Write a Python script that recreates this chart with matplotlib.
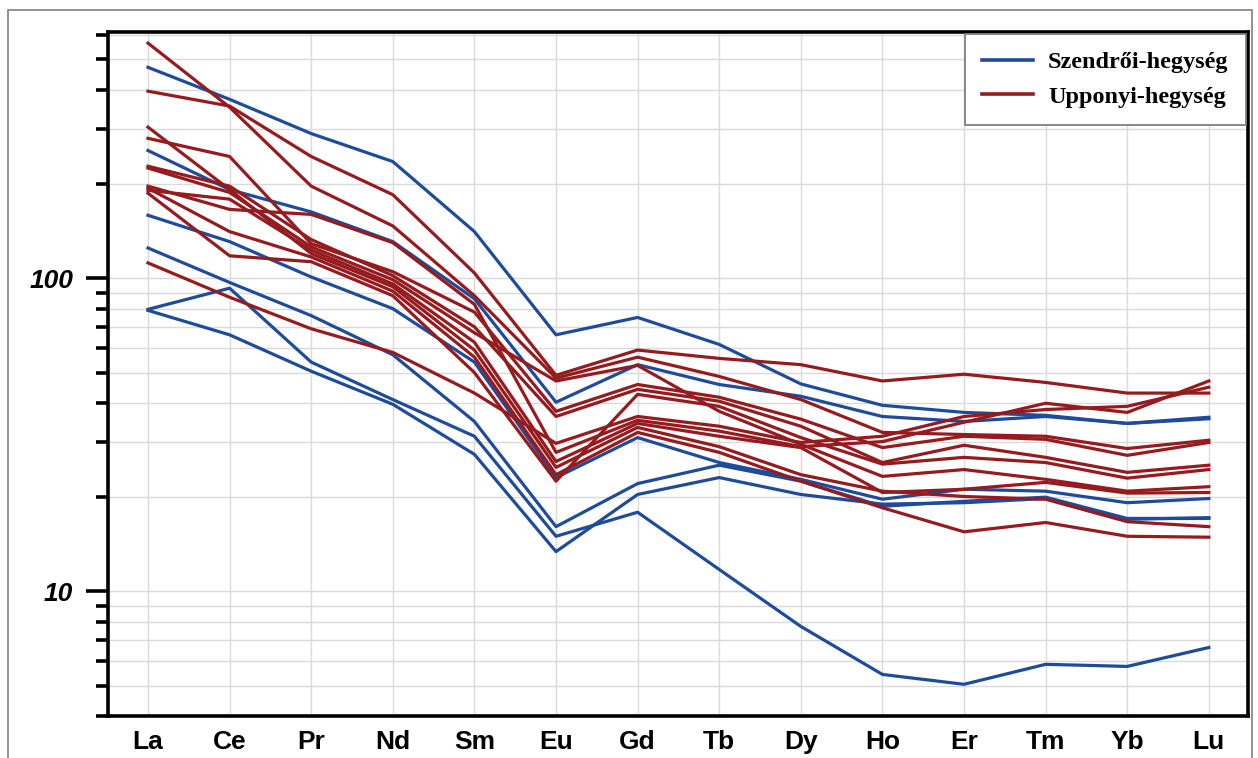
import matplotlib
matplotlib.use("Agg")
import matplotlib.pyplot as plt
from matplotlib.patches import Rectangle
from matplotlib.ticker import LogLocator, NullFormatter, FixedLocator, FixedFormatter

elements = ["La", "Ce", "Pr", "Nd", "Sm", "Eu", "Gd", "Tb", "Dy", "Ho", "Er", "Tm", "Yb", "Lu"]

# Szendrői-hegység samples (chondrite normalised)
sz_1 = [472, 373, 290, 236, 141, 66, 75, 61.5, 46, 39.3, 37.3, 36.5, 34.4, 36]
sz_2 = [256, 192, 163, 131, 86, 40.2, 53, 45.8, 42, 36.2, 34.9, 36.2, 34.4, 35.6]
sz_3 = [159, 131, 101, 80, 54, 23.1, 31, 25.8, 22.8, 19.7, 21.2, 20.9, 19.2, 19.8]
sz_4 = [125, 97, 76, 57, 34.9, 16.1, 22.1, 25.3, 22.5, 18.7, 19.4, 20, 17.1, 17.1]
sz_5 = [79.6, 93, 54, 41, 31.3, 15, 17.9, 11.75, 7.73, 5.43, 5.05, 5.85, 5.76, 6.62]
sz_6 = [79, 66, 50.5, 39.6, 27.4, 13.4, 20.4, 23.1, 20.4, 19, 19.2, 19.8, 17, 17.2]

# Upponyi-hegység samples
up_1 = [564, 352, 197, 147, 88, 48, 56, 48.6, 41, 32.2, 31.7, 31.3, 28.6, 30.4]
up_2 = [396, 355, 245, 185, 104, 49, 59, 55.5, 53, 47, 49.4, 46.5, 43, 43]
up_3 = [304, 192, 120, 94, 59, 24.9, 33.4, 29, 23.6, 20.9, 20.1, 19.7, 16.7, 16.1]
up_4 = [280, 245, 129, 105, 78, 37.6, 45.8, 41.7, 35.5, 28.8, 31.3, 30.6, 27.2, 29.9]
up_5 = [228, 197, 133, 102, 70, 36.2, 44.2, 40.5, 33.7, 25.8, 29.3, 26.8, 24, 25.3]
up_6 = [225, 188, 126, 99, 67, 47, 52.7, 37.6, 29.5, 23.3, 24.5, 22.8, 20.9, 21.6]
up_7 = [197, 166, 160, 130, 82.6, 27.8, 35.2, 32.5, 29, 30.1, 34.7, 39.9, 37.3, 47]
up_8 = [194, 141, 117, 91, 56, 23.6, 32.2, 27.8, 22.5, 18.5, 15.5, 16.6, 15, 14.9]
up_9 = [191, 179, 123, 96, 62.5, 26, 34.4, 31.3, 28.8, 20.7, 21.2, 22.3, 20.6, 20.7]
up_10 = [187, 118, 113, 88, 50, 22.5, 42.6, 39, 31, 25.5, 26.8, 25.8, 23, 24.5]
up_11 = [112, 87, 69, 58, 43, 29.7, 36.2, 33.7, 29.9, 31.3, 36.2, 38.1, 39, 44.9]

szendro = [sz_1, sz_2, sz_3, sz_4, sz_5, sz_6]
upponyi = [up_1, up_2, up_3, up_4, up_5, up_6, up_7, up_8, up_9, up_10, up_11]
group_names = ["Szendrői-hegység", "Upponyi-hegység"]

blue = "#1f4b9b"
red = "#961b1f"
lw = 2.3

plt.rcParams['figure.dpi'] = 100
fig = plt.figure(figsize=(12.58, 7.58))
ax = fig.add_axes([108/1258, 1-716/758, (1248-108)/1258, (716-32)/758])

x = range(len(elements))
for i, s in enumerate(szendro):
    ax.plot(x, s, color=blue, linewidth=lw, label=group_names[0] if i == 0 else None, zorder=3)
for i, s in enumerate(upponyi):
    ax.plot(x, s, color=red, linewidth=lw, label=group_names[1] if i == 0 else None, zorder=3)

ax.set_yscale("log")
ax.set_ylim(4, 612)
ax.set_xlim(-0.49, 13.48)

ax.xaxis.set_major_locator(FixedLocator(list(x)))
ax.xaxis.set_major_formatter(FixedFormatter(elements))
ax.yaxis.set_major_locator(FixedLocator([10, 100]))
ax.yaxis.set_major_formatter(FixedFormatter(["10", "100"]))
ax.yaxis.set_minor_locator(LogLocator(base=10, subs=range(2, 10)))
ax.yaxis.set_minor_formatter(NullFormatter())

ax.grid(True, which="major", color="#dadada", linewidth=1.0, zorder=0)
ax.grid(True, which="minor", axis="y", color="#dadada", linewidth=1.0, zorder=0)
ax.set_axisbelow(True)

for side in ["left", "bottom", "top", "right"]:
    ax.spines[side].set_linewidth(2.6)
    ax.spines[side].set_color("black")

ax.tick_params(axis="x", length=0, pad=10)
ax.tick_params(axis="y", which="major", length=16, width=2.6, pad=9, direction="out")
ax.tick_params(axis="y", which="minor", length=9, width=2.6, direction="out")
ax.tick_params(right=False, top=False)

for lab in ax.get_xticklabels():
    lab.set_fontfamily("Liberation Sans")
    lab.set_fontweight("bold")
    lab.set_fontsize(19)
for lab in ax.get_yticklabels():
    lab.set_fontfamily("Liberation Sans")
    lab.set_fontweight("bold")
    lab.set_fontstyle("italic")
    lab.set_fontsize(19)

leg = ax.legend(loc="upper right", prop={'family': 'Liberation Serif', 'weight': 'bold', 'size': 17.5},
                frameon=True, fancybox=False, framealpha=1, edgecolor="#7f7f7f",
                borderaxespad=0.1, handlelength=2.1, handletextpad=0.62, labelspacing=0.5,
                borderpad=0.7)
leg.get_frame().set_linewidth(1.3)
for h in leg.get_lines():
    h.set_linewidth(2.6)

# thin frame around the whole picture
fig.patches.append(Rectangle((8/1258, -0.01), (1252-8)/1258, 1-10/758+0.01,
                             transform=fig.transFigure, fill=False,
                             edgecolor="#808080", linewidth=1.2))

plt.savefig("out.png", dpi=100)
